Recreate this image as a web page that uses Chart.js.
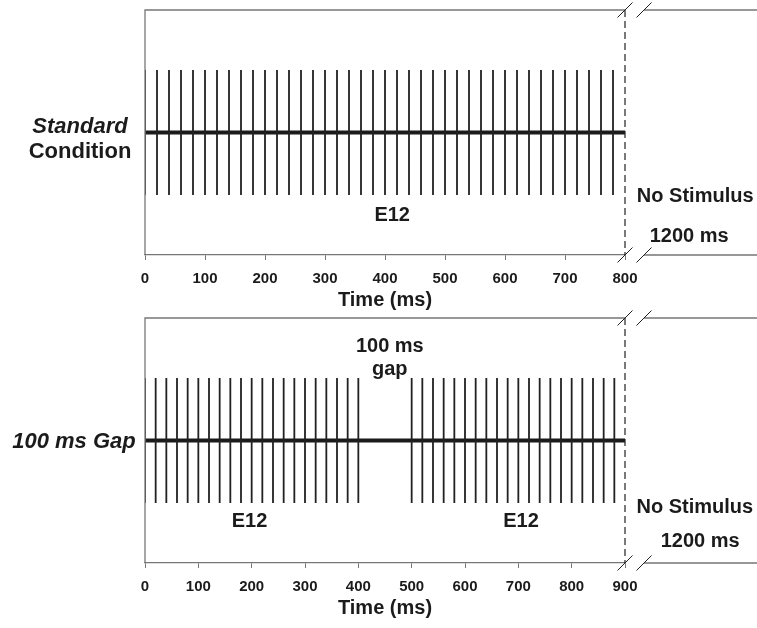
<!DOCTYPE html>
<html lang="en">
<head>
<meta charset="UTF-8">
<title>Stimulus Timeline</title>
<script src="https://cdn.jsdelivr.net/npm/chart.js"></script>
<style>
    body { margin: 0; background: #fff; }
    .panel { position: absolute; left: 0; width: 757px; }
</style>
</head>
<body>
<div class="panel" style="top:0;height:312px"><canvas id="standardChart"></canvas></div>
<div class="panel" style="top:310px;height:310px"><canvas id="gapChart"></canvas></div>

<script>
// pulse onsets (ms)
const standardPulses = [0, 20, 40, 60, 80, 100, 120, 140, 160, 180, 200, 220, 240, 260, 280, 300, 320, 340, 360, 380,
                        400, 420, 440, 460, 480, 500, 520, 540, 560, 580, 600, 620, 640, 660, 680, 700, 720, 740, 760, 780];
const gapPulses = [0, 20, 40, 60, 80, 100, 120, 140, 160, 180, 200, 220, 240, 260, 280, 300, 320, 340, 360, 380, 400,
                   500, 520, 540, 560, 580, 600, 620, 640, 660, 680, 700, 720, 740, 760, 780, 800, 820, 840, 860, 880];
const standardEnd = 800;
const gapEnd = 900;
const standardTicks = [0, 100, 200, 300, 400, 500, 600, 700, 800];
const gapTicks = [0, 100, 200, 300, 400, 500, 600, 700, 800, 900];

const FONT = '"Liberation Sans", Arial, sans-serif';
const INK = '#1b1b1b';

// texts placed on the data scales
const standardNotes = [
    { text: 'E12', x: 412, y: -1.33 },
    { text: 'No Stimulus', x: 917, y: -1.03 },
    { text: '1200 ms', x: 907, y: -1.67 }
];
const gapNotes = [
    { text: '100 ms', x: 459, y: 1.51 },
    { text: 'gap', x: 459, y: 1.13 },
    { text: 'E12', x: 196, y: -1.30 },
    { text: 'E12', x: 705, y: -1.30 },
    { text: 'No Stimulus', x: 1031, y: -1.07 },
    { text: '1200 ms', x: 1041, y: -1.62 }
];
const standardSide = [
    { text: 'Standard', style: 'italic bold', dy: -6 },
    { text: 'Condition', style: 'bold', dy: 19 }
];
const gapSide = [
    { text: '100 ms Gap', style: 'italic bold', dy: 1 }
];

function pulseData(pulses) {
    const pts = [];
    pulses.forEach(t => {
        pts.push({ x: t, y: -1 }, { x: t, y: 1 }, { x: t, y: null });
    });
    return pts;
}

const framePlugin = {
    id: 'frame',
    afterDatasetsDraw(chart, args, opts) {
        const { ctx, chartArea: a, scales: { x, y } } = chart;
        const xe = x.getPixelForValue(opts.end);
        const brk = 19;
        ctx.save();

        // box edges, broken after the stimulus
        ctx.strokeStyle = '#777';
        ctx.lineWidth = 1.3;
        ctx.beginPath();
        ctx.moveTo(a.left, a.bottom);
        ctx.lineTo(a.left, a.top);
        ctx.lineTo(xe, a.top);
        ctx.moveTo(xe + brk, a.top);
        ctx.lineTo(chart.width, a.top);
        ctx.moveTo(xe + brk, a.bottom);
        ctx.lineTo(chart.width, a.bottom);
        ctx.stroke();

        // dashed end of stimulus
        ctx.strokeStyle = '#222';
        ctx.lineWidth = 1.2;
        ctx.setLineDash([7, 4]);
        ctx.beginPath();
        ctx.moveTo(xe, a.top);
        ctx.lineTo(xe, a.bottom);
        ctx.stroke();
        ctx.setLineDash([]);

        // break marks
        ctx.lineWidth = 1;
        ctx.beginPath();
        [a.top, a.bottom].forEach(yy => {
            [xe, xe + brk].forEach(xx => {
                ctx.moveTo(xx - 7.5, yy + 7.5);
                ctx.lineTo(xx + 7.5, yy - 7.5);
            });
        });
        ctx.stroke();

        // annotations
        ctx.fillStyle = INK;
        ctx.textAlign = 'center';
        ctx.textBaseline = 'middle';
        ctx.font = 'bold 20px ' + FONT;
        opts.notes.forEach(n => {
            ctx.fillText(n.text, x.getPixelForValue(n.x), y.getPixelForValue(n.y));
        });

        // condition label
        const y0 = y.getPixelForValue(0);
        opts.side.forEach(s => {
            ctx.font = s.style + ' 22px ' + FONT;
            ctx.fillText(s.text, opts.sideX, y0 + s.dy);
        });
        ctx.restore();
    }
};

function makeChart(id, pulses, end, ticks, notes, side, sideX, topPad) {
    const ctx = document.getElementById(id).getContext('2d');
    return new Chart(ctx, {
        type: 'line',
        data: {
            datasets: [
                {
                    data: pulseData(pulses),
                    borderColor: '#222',
                    borderWidth: 1.8,
                    pointRadius: 0,
                    spanGaps: false
                },
                {
                    data: [{ x: 0, y: 0 }, { x: end, y: 0 }],
                    borderColor: INK,
                    borderWidth: 4,
                    pointRadius: 0
                }
            ]
        },
        options: {
            responsive: true,
            maintainAspectRatio: false,
            animation: false,
            events: [],
            layout: { padding: { left: 145, right: 132, top: topPad, bottom: 0 } },
            plugins: {
                legend: { display: false },
                tooltip: { enabled: false },
                frame: { end: end, notes: notes, side: side, sideX: sideX }
            },
            scales: {
                x: {
                    type: 'linear',
                    min: 0,
                    max: end,
                    afterBuildTicks: scale => { scale.ticks = ticks.map(v => ({ value: v })); },
                    grid: { drawOnChartArea: false, tickLength: 5, color: '#777' },
                    border: { display: true, color: '#777', width: 1.3 },
                    ticks: {
                        padding: 10,
                        color: INK,
                        font: { family: FONT, size: 15, weight: 'bold' }
                    },
                    title: {
                        display: true,
                        text: 'Time (ms)',
                        color: INK,
                        padding: { top: -10, bottom: 0 },
                        font: { family: FONT, size: 20, weight: 'bold' }
                    }
                },
                y: { display: false, min: -1.96, max: 1.96 }
            }
        },
        plugins: [framePlugin]
    });
}

makeChart('standardChart', standardPulses, standardEnd, standardTicks, standardNotes, standardSide, 80, 10);
makeChart('gapChart', gapPulses, gapEnd, gapTicks, gapNotes, gapSide, 74, 8);
</script>
</body>
</html>
